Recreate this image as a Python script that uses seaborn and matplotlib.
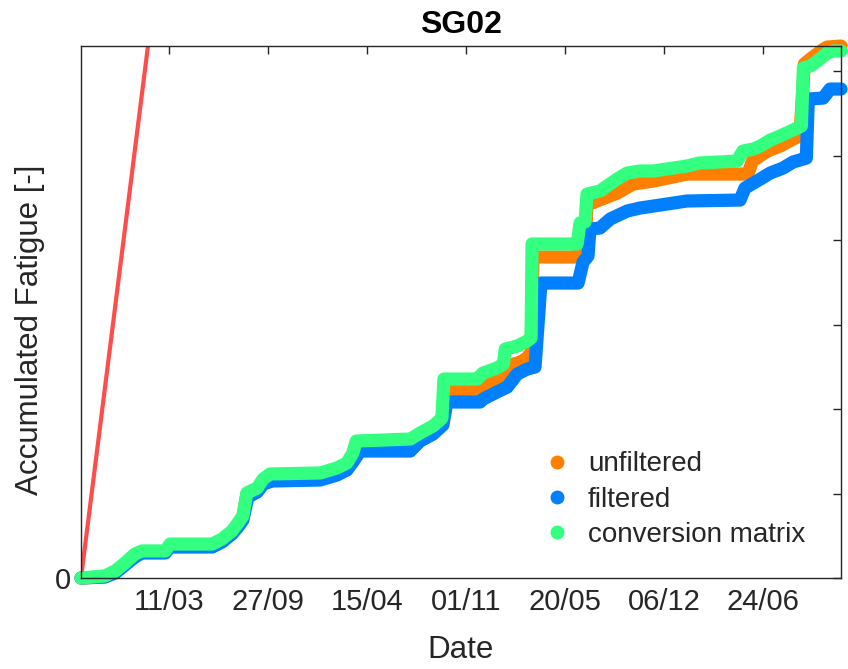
import numpy as np
import pandas as pd
import matplotlib
matplotlib.use("Agg")
import matplotlib.pyplot as plt
import matplotlib.dates as mdates
import matplotlib.ticker as mticker
from matplotlib.lines import Line2D
import seaborn as sns

# ---------------- data ----------------
start_date = "2015-09-15"

conv_days = [0, 48, 69, 89, 109, 123, 170, 180, 265, 285, 305, 317, 327, 335, 356, 368, 382,
             483, 517, 537, 549, 556, 665, 685, 711, 725, 729, 733, 800, 812, 840, 853, 857,
             881, 901, 909, 911, 1002, 1008, 1018, 1022, 1048, 1083, 1103, 1129, 1156, 1224,
             1248, 1325, 1337, 1358, 1372, 1392, 1412, 1438, 1455, 1459, 1473, 1487, 1507,
             1519, 1535]
conv_vals = [0, 0.024, 0.083, 0.178, 0.284, 0.320, 0.320, 0.402, 0.402, 0.462, 0.556, 0.651,
             0.734, 1.006, 1.065, 1.172, 1.231, 1.243, 1.302, 1.361, 1.479, 1.621, 1.645, 1.716,
             1.799, 1.870, 1.893, 2.355, 2.355, 2.426, 2.485, 2.532, 2.710, 2.745, 2.805, 2.840,
             3.953, 3.953, 4.201, 4.213, 4.544, 4.580, 4.722, 4.793, 4.817, 4.817, 4.876, 4.911,
             4.935, 5.053, 5.077, 5.112, 5.183, 5.231, 5.302, 5.349, 6.036, 6.059, 6.118, 6.213,
             6.237, 6.237]

unf_days = [0, 48, 69, 89, 109, 123, 170, 180, 265, 285, 305, 317, 327, 335, 356, 368, 382,
            483, 517, 537, 549, 556, 665, 685, 711, 731, 735, 806, 816, 840, 853, 861, 887,
            901, 909, 913, 1002, 1008, 1018, 1022, 1042, 1083, 1115, 1129, 1156, 1224, 1347,
            1356, 1386, 1412, 1438, 1452, 1461, 1473, 1500, 1507, 1535]
unf_vals = [0, 0.012, 0.071, 0.166, 0.272, 0.308, 0.308, 0.390, 0.390, 0.450, 0.544, 0.639,
            0.722, 0.994, 1.053, 1.160, 1.219, 1.231, 1.290, 1.349, 1.467, 1.609, 1.633, 1.704,
            1.775, 1.893, 2.213, 2.225, 2.272, 2.331, 2.367, 2.509, 2.556, 2.604, 2.674, 3.799,
            3.799, 3.882, 3.900, 4.414, 4.462, 4.556, 4.663, 4.675, 4.698, 4.781, 4.781, 4.935,
            5.053, 5.112, 5.195, 5.231, 6.083, 6.142, 6.260, 6.284, 6.296]

filt_days = [0, 48, 69, 89, 109, 123, 170, 180, 265, 285, 305, 317, 327, 337, 356, 368, 386,
             483, 517, 537, 549, 564, 665, 685, 711, 731, 739, 806, 812, 840, 861, 881, 901,
             917, 929, 1004, 1014, 1024, 1028, 1048, 1069, 1103, 1129, 1156, 1224, 1331, 1341,
             1372, 1392, 1418, 1438, 1452, 1465, 1469, 1499, 1513, 1535]
filt_vals = [0, 0.012, 0.059, 0.154, 0.249, 0.296, 0.296, 0.367, 0.367, 0.426, 0.521, 0.604,
             0.686, 0.959, 1.018, 1.112, 1.148, 1.160, 1.219, 1.278, 1.373, 1.503, 1.503, 1.621,
             1.704, 1.811, 2.083, 2.083, 2.118, 2.201, 2.260, 2.414, 2.473, 2.497, 3.491, 3.491,
             3.740, 3.811, 4.130, 4.142, 4.249, 4.343, 4.379, 4.402, 4.462, 4.473, 4.615, 4.722,
             4.793, 4.852, 4.923, 4.947, 4.970, 5.669, 5.680, 5.787, 5.787]

ref_days = [0, 200]
ref_vals = [0, 9.31]

series_names = ["unfiltered", "filtered", "conversion matrix"]
series_colors = ["#FF8000", "#0080FF", "#33FF80"]
ref_color = "#FF4D4D"

x_tick_dates = ["2016-03-11", "2016-09-27", "2017-04-15", "2017-11-01",
                "2018-05-20", "2018-12-06", "2019-06-24"]
y_ticks = [0, 1, 2, 3, 4, 5, 6]
y_tick_labels = ["0", "", "", "", "", "", ""]
x_max_day = 1535
y_max = 6.30

# ---------------- build frame ----------------
t0 = pd.Timestamp(start_date)
frames = []
for name, d, v in zip(series_names, [unf_days, filt_days, conv_days],
                      [unf_vals, filt_vals, conv_vals]):
    frames.append(pd.DataFrame({"date": t0 + pd.to_timedelta(d, unit="D"),
                                "fatigue": v, "series": name}))
df = pd.concat(frames, ignore_index=True)
ref_df = pd.DataFrame({"date": t0 + pd.to_timedelta(ref_days, unit="D"), "fatigue": ref_vals})

# ---------------- style ----------------
sns.set_style("white")
plt.rcParams["font.family"] = ["Liberation Sans", "DejaVu Sans"]
dark = "#262626"

fig = plt.figure(figsize=(8.48, 6.69), dpi=100)
ax = fig.add_axes([81 / 848, (669 - 578) / 669, (841 - 81) / 848, (578 - 45.7) / 669])

sns.lineplot(data=ref_df, x="date", y="fatigue", color=ref_color, linewidth=3.0,
             ax=ax, legend=False, sort=False)

n_before = len(ax.lines)
for name, col in zip(series_names, series_colors):
    sub = df[df["series"] == name]
    sns.lineplot(data=sub, x="date", y="fatigue", color=col, linewidth=9.5,
                 ax=ax, legend=False, sort=False, estimator=None)
for ln in ax.lines[n_before:]:
    ln.set_clip_on(False)
    ln.set_solid_capstyle("round")
    ln.set_solid_joinstyle("round")

ax.set_xlim(t0, t0 + pd.Timedelta(days=x_max_day))
ax.set_ylim(0, y_max)

ax.xaxis.set_major_locator(mticker.FixedLocator(mdates.date2num(pd.to_datetime(x_tick_dates))))
ax.xaxis.set_major_formatter(mdates.DateFormatter("%d/%m"))
ax.set_yticks(y_ticks)
ax.set_yticklabels(y_tick_labels)

ax.tick_params(direction="in", length=6, width=1.0, top=True, right=True,
               colors=dark, labelsize=21, pad=7)
for s in ax.spines.values():
    s.set_color(dark)
    s.set_linewidth(1.0)
    s.set_visible(True)

ax.set_xlabel("Date", fontsize=22.5, color=dark, labelpad=14)
ax.set_ylabel("Accumulated Fatigue [-]", fontsize=22.5, color=dark)
ax.yaxis.set_label_coords(-0.047, 0.466)
ax.set_title("SG02", fontsize=23, fontweight="bold", color="black", pad=9)

handles = [Line2D([], [], linestyle="none", marker="o", markersize=9,
                  markerfacecolor=c, markeredgecolor=c) for c in series_colors]
ax.legend(handles, series_names, loc="upper left", bbox_to_anchor=(0.605, 0.238),
          frameon=False, fontsize=20, handletextpad=0.5, labelspacing=0.34,
          handlelength=1.2, borderpad=0, borderaxespad=0)

fig.savefig("out.png", dpi=100)
